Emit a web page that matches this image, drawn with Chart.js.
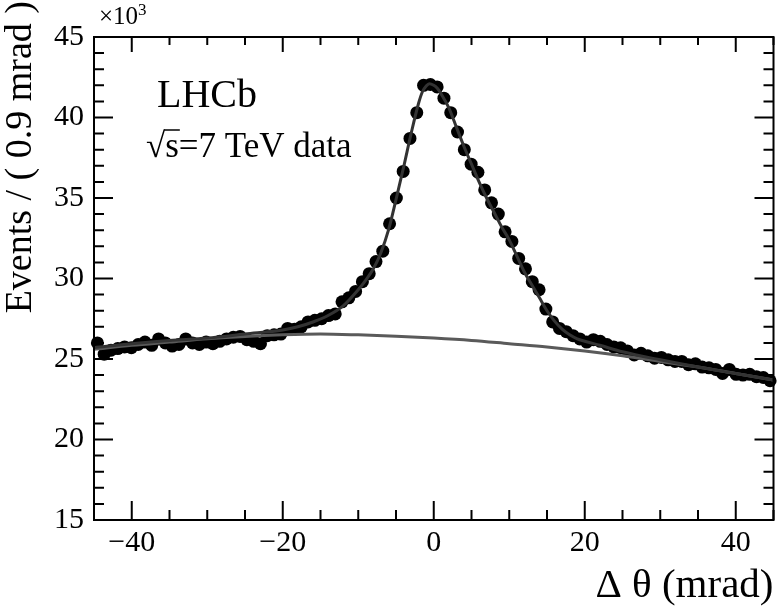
<html>

<head>
    <title>LHCb delta theta</title>
    <script src="https://cdn.jsdelivr.net/npm/chart.js"></script>
    <style>
        body {
            margin: 0;
            background: #fff;
        }
    </style>
</head>

<body>
    <canvas id="thetaChart" width="780" height="608"></canvas>
</body>
<script>
    // bin centres (mrad), 0.9 mrad bins from -45 to 45
    const binCenters = [
        -44.55, -43.65, -42.75, -41.85, -40.95, -40.05, -39.15, -38.25, -37.35, -36.45,
        -35.55, -34.65, -33.75, -32.85, -31.95, -31.05, -30.15, -29.25, -28.35, -27.45,
        -26.55, -25.65, -24.75, -23.85, -22.95, -22.05, -21.15, -20.25, -19.35, -18.45,
        -17.55, -16.65, -15.75, -14.85, -13.95, -13.05, -12.15, -11.25, -10.35, -9.45,
        -8.55, -7.65, -6.75, -5.85, -4.95, -4.05, -3.15, -2.25, -1.35, -0.45,
        0.45, 1.35, 2.25, 3.15, 4.05, 4.95, 5.85, 6.75, 7.65, 8.55,
        9.45, 10.35, 11.25, 12.15, 13.05, 13.95, 14.85, 15.75, 16.65, 17.55,
        18.45, 19.35, 20.25, 21.15, 22.05, 22.95, 23.85, 24.75, 25.65, 26.55,
        27.45, 28.35, 29.25, 30.15, 31.05, 31.95, 32.85, 33.75, 34.65, 35.55,
        36.45, 37.35, 38.25, 39.15, 40.05, 40.95, 41.85, 42.75, 43.65, 44.55
    ]

    // events per bin, x10^3
    const events = [
        26.0, 25.3, 25.55, 25.65, 25.75, 25.7, 25.9, 26.05, 25.85, 26.25,
        26.0, 25.8, 25.9, 26.25, 26.0, 25.9, 26.05, 25.95, 26.1, 26.25,
        26.35, 26.4, 26.2, 26.1, 25.95, 26.45, 26.5, 26.55, 26.9, 26.85,
        27.0, 27.3, 27.4, 27.5, 27.7, 27.8, 28.55, 28.8, 29.2, 29.8,
        30.3, 31.05, 31.7, 33.4, 35.0, 36.65, 38.7, 40.3, 42.0, 42.05,
        41.9, 41.2, 40.3, 39.1, 38.0, 37.1, 36.6, 35.5, 34.7, 34.0,
        32.9, 32.3, 31.25, 30.6, 29.8, 29.3, 28.1, 27.3, 26.9, 26.7,
        26.45, 26.25, 26.05, 26.2, 26.1, 25.9, 25.75, 25.7, 25.5, 25.25,
        25.35, 25.2, 25.05, 25.1, 24.95, 24.85, 24.85, 24.65, 24.7, 24.5,
        24.45, 24.35, 24.1, 24.35, 24.05, 24.0, 24.05, 23.9, 23.85, 23.65
    ]

    // total fit
    const fitX = [-45, -40, -35, -30, -25, -20, -18, -16, -14, -12, -10, -9, -8, -7, -6, -5, -4, -3, -2, -1.5, -1, -0.6, 0, 0.5, 1, 2, 3, 4, 5, 6, 7, 8, 9, 10, 11, 12, 13, 14, 15, 16, 17, 18, 19, 20, 22, 25, 30, 35, 40, 45]
    const fitY = [25.7, 25.95, 26.15, 26.3, 26.55, 26.8, 27.0, 27.3, 27.7, 28.3, 29.3, 29.9, 30.6, 31.6, 33.0, 34.9, 36.9, 39.0, 40.9, 41.6, 41.95, 42.1, 42.0, 41.8, 41.45, 40.6, 39.4, 38.2, 37.1, 36.0, 35.0, 34.1, 33.2, 32.4, 31.4, 30.4, 29.6, 28.8, 28.0, 27.35, 26.85, 26.5, 26.25, 26.1, 25.85, 25.45, 24.95, 24.5, 24.1, 23.7]

    // background component
    const bgX = [-45, -40, -35, -30, -25, -20, -15, -10, -5, 0, 5, 10, 15, 20, 25, 30, 35, 40, 45]
    const bgY = [25.6, 25.85, 26.05, 26.25, 26.4, 26.5, 26.55, 26.5, 26.42, 26.3, 26.15, 25.95, 25.75, 25.5, 25.2, 24.85, 24.5, 24.1, 23.7]

    const xTickVals = [-40, -20, 0, 20, 40]
    const yTickVals = [15, 20, 25, 30, 35, 40, 45]

    const serif = '"Liberation Serif", "DejaVu Serif", serif'

    const framePlugin = {
        id: 'frame',
        afterDraw(chart) {
            const ctx = chart.ctx
            const a = chart.chartArea
            const xs = chart.scales.x
            const ys = chart.scales.y
            ctx.save()
            ctx.strokeStyle = '#000'
            ctx.lineWidth = 2
            ctx.strokeRect(a.left, a.top, a.right - a.left, a.bottom - a.top)

            ctx.beginPath()
            for (let v = -45; v <= 45; v += 5) {
                const px = xs.getPixelForValue(v)
                const major = xTickVals.includes(v)
                const lb = major ? 19 : 10
                const lt = major ? 15 : 8
                ctx.moveTo(px, a.bottom)
                ctx.lineTo(px, a.bottom - lb)
                ctx.moveTo(px, a.top)
                ctx.lineTo(px, a.top + lt)
            }
            for (let v = 15; v <= 45; v += 1) {
                const py = ys.getPixelForValue(v)
                const len = yTickVals.includes(v) ? 19 : 10
                ctx.moveTo(a.left, py)
                ctx.lineTo(a.left + len, py)
                ctx.moveTo(a.right, py)
                ctx.lineTo(a.right - len, py)
            }
            ctx.stroke()

            ctx.fillStyle = '#000'
            ctx.textBaseline = 'alphabetic'

            // axis titles
            ctx.font = '41px ' + serif
            ctx.textAlign = 'right'
            ctx.fillText('\u0394 \u03b8 (mrad)', a.right, 597)

            ctx.save()
            ctx.translate(31, 0)
            ctx.rotate(-Math.PI / 2)
            ctx.textAlign = 'right'
            ctx.font = '38px ' + serif
            ctx.fillText('Events / ( 0.9 mrad )', -1, 0)
            ctx.restore()

            // exponent
            ctx.textAlign = 'left'
            ctx.font = '25px ' + serif
            ctx.fillText('\u00d710', 99, 24)
            ctx.font = '17px ' + serif
            ctx.fillText('3', 138, 15)

            // labels
            ctx.font = '40px ' + serif
            ctx.fillText('LHCb', 157, 107)

            ctx.font = '35px ' + serif
            ctx.fillText('\u221a', 146, 157)
            const rw = ctx.measureText('\u221a').width
            ctx.fillText('s=7 TeV data', 146 + rw, 157)
            const sw = ctx.measureText('s').width
            ctx.lineWidth = 1.5
            ctx.beginPath()
            ctx.moveTo(146 + rw - 1, 130)
            ctx.lineTo(146 + rw + sw + 1, 130)
            ctx.stroke()
            ctx.restore()
        }
    }

    const ctx = document.getElementById('thetaChart').getContext('2d')
    const thetaChart = new Chart(ctx, {
        type: 'scatter',
        data: {
            datasets: [{
                label: 'fit',
                type: 'line',
                data: fitX.map((x, i) => ({ x: x, y: fitY[i] })),
                borderColor: '#333333',
                borderWidth: 3,
                pointRadius: 0,
                cubicInterpolationMode: 'monotone',
                order: 1
            }, {
                label: 'background',
                type: 'line',
                data: bgX.map((x, i) => ({ x: x, y: bgY[i] })),
                borderColor: '#5a5a5a',
                borderWidth: 3,
                pointRadius: 0,
                cubicInterpolationMode: 'monotone',
                order: 2
            }, {
                label: 'data',
                data: binCenters.map((x, i) => ({ x: x, y: events[i] })),
                backgroundColor: '#000',
                borderColor: '#000',
                pointRadius: 6.5,
                pointBorderWidth: 0,
                clip: false,
                order: 3
            }]
        },
        options: {
            responsive: false,
            animation: false,
            devicePixelRatio: 1,
            layout: {
                padding: { top: 37, right: 2, left: 0, bottom: 0 }
            },
            plugins: {
                legend: { display: false },
                tooltip: { enabled: false }
            },
            scales: {
                x: {
                    type: 'linear',
                    min: -45,
                    max: 45,
                    afterBuildTicks: (s) => { s.ticks = xTickVals.map(v => ({ value: v })) },
                    afterFit: (s) => { s.height = 88 },
                    grid: { display: false, drawTicks: false },
                    border: { display: false },
                    ticks: {
                        color: '#000',
                        padding: 5,
                        maxRotation: 0,
                        font: { family: serif, size: 30 },
                        callback: (v) => String(v).replace('-', '\u2212')
                    }
                },
                y: {
                    type: 'linear',
                    min: 15,
                    max: 45,
                    afterBuildTicks: (s) => { s.ticks = yTickVals.map(v => ({ value: v })) },
                    afterFit: (s) => { s.width = 94 },
                    grid: { display: false, drawTicks: false },
                    border: { display: false },
                    ticks: {
                        color: '#000',
                        padding: 10,
                        font: { family: serif, size: 30 }
                    }
                }
            }
        },
        plugins: [framePlugin]
    });
</script>
</html>
